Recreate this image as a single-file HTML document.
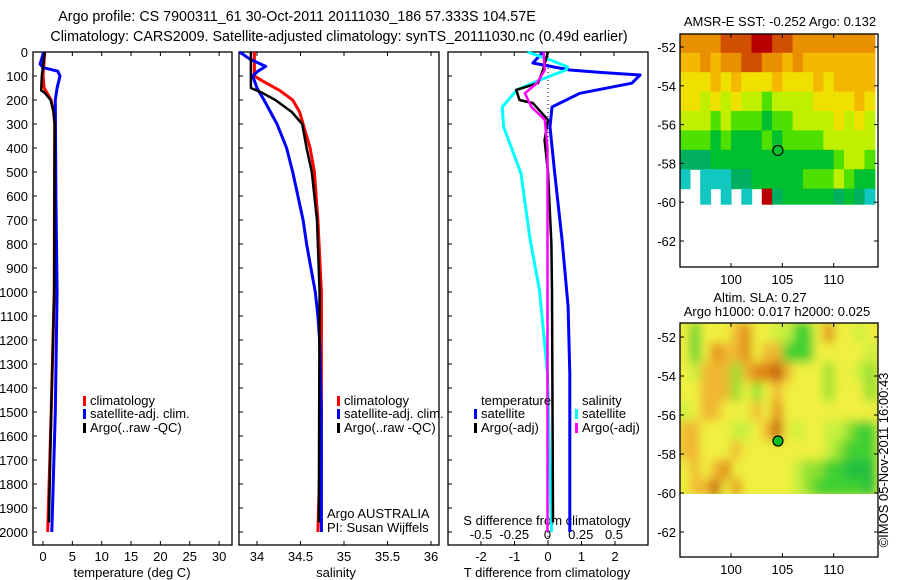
<!DOCTYPE html>
<html><head><meta charset="utf-8"><style>
html,body{margin:0;padding:0;background:#fff;}
svg{display:block;font-family:"Liberation Sans",sans-serif;}
text{fill:#000;}
</style></head><body>
<svg id="chart" width="900" height="580" viewBox="0 0 900 580" xmlns="http://www.w3.org/2000/svg">
<defs>
<filter id="blur" x="-10%" y="-10%" width="120%" height="120%"><feGaussianBlur stdDeviation="5"/></filter>
<clipPath id="clipAlt"><rect x="680" y="323" width="198" height="171"/></clipPath>
</defs>
<text x="297" y="21" font-size="14.3" text-anchor="middle">Argo profile: CS 7900311_61 30-Oct-2011 20111030_186 57.333S 104.57E</text>
<text x="339" y="41" font-size="14.3" text-anchor="middle">Climatology: CARS2009. Satellite-adjusted climatology: synTS_20111030.nc (0.49d earlier)</text>
<g id="layer"></g>
</svg>
<script>
// ---- data ----
const depthTicks=[0,100,200,300,400,500,600,700,800,900,1000,1100,1200,1300,1400,1500,1600,1700,1800,1900,2000];
const tempTicks=[0,5,10,15,20,25,30];
const salTicks=[34,34.5,35,35.5,36];
const dTTicks=[-2,-1,0,1,2];
const dSTicks=[-0.5,-0.25,0,0.25,0.5];
const dSTickLabels=["-0.5","-0.25","0","0.25","0.5"];
const lonTicks=[100,105,110];
const latTicks=[-52,-54,-56,-58,-60,-62];

const tempClimDepth=[0,100,150,200,250,300,1000,1500,2000];
const tempClim=[0.3,0,0.2,1.4,1.8,2.0,1.9,1.4,0.8];
const tempSatDepth=[0,50,65,80,100,150,200,600,1000,1500,2000];
const tempSat=[0.1,-0.5,0,2.5,2.9,2.4,2.1,2.2,2.4,2.1,1.5];
const tempArgoDepth=[0,100,160,170,200,250,300,1000,1500,1960];
const tempArgo=[0.3,-0.2,-0.3,0.3,1.3,1.8,2.0,1.9,1.4,1.0];

const salClimDepth=[0,100,120,160,200,250,300,400,500,700,1000,1500,2000];
const salClim=[33.97,33.97,34.06,34.26,34.41,34.49,34.53,34.61,34.66,34.70,34.74,34.74,34.70];
const salSatDepth=[0,30,60,80,100,150,200,300,400,500,600,700,800,900,1000,1100,1200,1500,2000];
const salSat=[33.80,33.92,34.10,34.01,33.95,34.00,34.08,34.23,34.34,34.41,34.47,34.53,34.57,34.62,34.67,34.70,34.72,34.74,34.74];
const salArgoDepth=[0,150,170,200,250,300,400,500,700,1000,1960];
const salArgo=[33.93,33.93,34.06,34.21,34.40,34.52,34.57,34.63,34.69,34.72,34.71];

const dTSatDepth=[0,46,75,85,96,130,172,229,312,505,784,1060,1340,2000];
const dTSat=[-0.15,-0.45,0.65,1.55,2.75,2.5,0.95,0.12,0.06,0.2,0.42,0.6,0.65,0.65];
const dSSatDepth=[0,33,62,75,117,158,229,312,505,784,992,1340,2000];
const dSSat=[-0.15,0.02,0.15,0.14,-0.06,-0.23,-0.34,-0.33,-0.2,-0.13,-0.06,0.0,0.03];
const dTArgoDepth=[0,75,130,158,200,213,283,367,500,800,1000,1960];
const dTArgo=[0.0,-0.15,-0.3,-0.95,-0.85,-0.45,0.0,-0.1,0.0,0.1,0.12,0.15];
const dSArgoDepth=[0,75,130,172,229,283,400,1000,2000];
const dSArgo=[-0.03,-0.02,-0.08,-0.17,-0.12,-0.02,0.0,0.0,0.0];

const mapLon0=95;
const mapLatTop=-51.3;
const sstRows=[
"7777888998877777777",
"6676778877676666666",
"5556565556555656666",
"5545454434444555565",
"4443433323344445454",
"3332322232333344444",
"1112222222222223443",
"0.00011222223334322",
"..0.0.0.91222221210"];
const altRows=[
"5255567554422575545",
"5257667566222555554",
"5466636778655535543",
"5566635356555535553",
"4566555657555555555",
"6655544568545544322",
"6655565555555543222",
"5656755555543322111",
"5668575555543222221"];
const sstColors={"9":"#b80000","8":"#d05000","7":"#e89000","6":"#f5b800","5":"#f0e000","4":"#c0f000","3":"#50e000","2":"#00c030","1":"#00b060","0":"#10c8c0"};
const altColors={"8":"#c05800","7":"#e08818","6":"#f0b830","5":"#f0f040","4":"#c8f040","3":"#90e030","2":"#40d030","1":"#20c040"};
const argoLon=104.57, argoLat=-57.333;

// ---- axis functions ----
const yD=d=>52+0.24*d;
const xT=t=>43+5.87*t;
const xS=s=>257+87*(s-34);
const xdT=v=>548+33.5*v;
const xdS=v=>547.5+133*v;
const mx=l=>731+10.27*(l-100);
const my1=l=>47+19.4*(-52-l);
const my2=l=>337+19.5*(-52-l);

const NS="http://www.w3.org/2000/svg";
const layer=document.getElementById('layer');
function mk(tag,attrs,parent){const e=document.createElementNS(NS,tag);for(const k in attrs)e.setAttribute(k,attrs[k]);(parent||layer).appendChild(e);return e;}
function txt(x,y,s,size,anchor){const t=mk('text',{x:x,y:y,'font-size':size||13,'text-anchor':anchor||'middle'});t.textContent=s;return t;}

const panels=[[33,232],[239,439],[448,648]];
panels.forEach((p,i)=>{
  const r=mk('rect',{x:p[0],y:52,width:p[1]-p[0],height:493,fill:'none',stroke:'#000','stroke-width':1.3});
  
  
});
depthTicks.forEach(d=>{
  const t=txt(28,yD(d)+5,String(d),13,'end');
  
  
  panels.forEach(p=>{mk('line',{x1:p[0],x2:p[0]+4,y1:yD(d),y2:yD(d),stroke:'#000'});});
});
tempTicks.forEach(v=>{
  const t=txt(xT(v),561,String(v));
  
  
  mk('line',{x1:xT(v),x2:xT(v),y1:52,y2:56,stroke:'#000'});
  mk('line',{x1:xT(v),x2:xT(v),y1:545,y2:541,stroke:'#000'});
});
salTicks.forEach(v=>{
  const t=txt(xS(v),561,String(v));
  
  
  mk('line',{x1:xS(v),x2:xS(v),y1:52,y2:56,stroke:'#000'});
  mk('line',{x1:xS(v),x2:xS(v),y1:545,y2:541,stroke:'#000'});
});
dTTicks.forEach(v=>{
  const t=txt(xdT(v),561,String(v));
  
  
  mk('line',{x1:xdT(v),x2:xdT(v),y1:545,y2:541,stroke:'#000'});
});
dSTicks.forEach((v,i)=>{
  const t=txt(xdS(v),539,dSTickLabels[i]);
  
  
  mk('line',{x1:xdS(v),x2:xdS(v),y1:52,y2:56,stroke:'#000'});
});
let a;
a=txt(132,577,'temperature (deg C)');
a=txt(336,577,'salinity');
a=txt(547,577,'T difference from climatology');
a=txt(547,525,'S difference from climatology');

const zl=mk('line',{x1:xdT(0),x2:xdT(0),y1:52,y2:545,stroke:'#000','stroke-dasharray':'1,3'});



function series(depths,vals,fx,color,w,name){
  const pts=depths.map((d,i)=>fx(vals[i]).toFixed(1)+','+yD(d).toFixed(1)).join(' ');
  const pl=mk('polyline',{points:pts,fill:'none',stroke:color,'stroke-width':w,'stroke-linejoin':'round'});
  
  
}
series(tempClimDepth,tempClim,xT,'#ff0000',3,'temp-climatology-line');
series(tempSatDepth,tempSat,xT,'#0000ff',3,'temp-satellite-line');
series(tempArgoDepth,tempArgo,xT,'#000',2.5,'temp-argo-line');
series(salClimDepth,salClim,xS,'#ff0000',3,'sal-climatology-line');
series(salSatDepth,salSat,xS,'#0000ff',3,'sal-satellite-line');
series(salArgoDepth,salArgo,xS,'#000',2.5,'sal-argo-line');
series(dTSatDepth,dTSat,xdT,'#0000ff',3,'t-diff-satellite-line');
series(dSSatDepth,dSSat,xdS,'#00ffff',3,'s-diff-satellite-line');
series(dTArgoDepth,dTArgo,xdT,'#000',2.5,'t-diff-argo-line');
series(dSArgoDepth,dSArgo,xdS,'#ff00ff',2.5,'s-diff-argo-line');

function legItem(x,y,color,label,name){
  const g=mk('g',{});
  
  
  mk('rect',{x:x,y:y-9,width:3,height:10,fill:color},g);
  const t=mk('text',{x:x+7,y:y,'font-size':13},g);t.textContent=label;
}
legItem(83,405,'#ff0000','climatology','legend-climatology');
legItem(83,418,'#0000ff','satellite-adj. clim.','legend-satellite');
legItem(83,432,'#000','Argo(..raw -QC)','legend-argo');
legItem(337,405,'#ff0000','climatology','legend-climatology-sal');
legItem(337,418,'#0000ff','satellite-adj. clim.','legend-satellite-sal');
legItem(337,432,'#000','Argo(..raw -QC)','legend-argo-sal');
a=txt(481,405,'temperature',13,'start');
legItem(474,418,'#0000ff','satellite','legend-t-satellite');
legItem(474,432,'#000','Argo(-adj)','legend-t-argo');
a=txt(582,405,'salinity',13,'start');
legItem(575,418,'#00ffff','satellite','legend-s-satellite');
legItem(575,432,'#ff00ff','Argo(-adj)','legend-s-argo');
a=txt(327,518,'Argo AUSTRALIA',13,'start');
a=txt(327,532,'PI: Susan Wijffels',13,'start');

function drawMap(rows,colors,my,parent,name){
  const g=mk('g',{},parent);
  
  
  rows.forEach((row,j)=>{
    const la0=mapLatTop-j, la1=Math.max(mapLatTop-j-1,-60.1);
    for(let i=0;i<row.length;i++){
      const c=colors[row[i]]; if(!c) continue;
      const lo=mapLon0+i;
      mk('rect',{x:mx(lo).toFixed(1),y:my(la0).toFixed(1),width:(mx(lo+1)-mx(lo)+0.6).toFixed(1),height:(my(la1)-my(la0)+0.6).toFixed(1),fill:c},g);
    }
  });
  return g;
}
drawMap(sstRows,sstColors,my1,layer,'sst-heatmap');
const ag=mk('g',{'clip-path':'url(#clipAlt)'});
mk('rect',{x:680,y:323,width:198,height:171,fill:'#e8e840'},ag);
const am=drawMap(altRows,altColors,my2,ag,'sla-heatmap');
am.setAttribute('filter','url(#blur)');

function mapAxes(top,bot,my,name){
  const r=mk('rect',{x:680,y:top,width:198,height:bot-top,fill:'none',stroke:'#000','stroke-width':1.3});
  
  
  latTicks.forEach(l=>{
    const t=txt(676,my(l)+5,String(l),13,'end');
    
    
    mk('line',{x1:680,x2:684,y1:my(l),y2:my(l),stroke:'#000'});
    mk('line',{x1:878,x2:874,y1:my(l),y2:my(l),stroke:'#000'});
  });
  lonTicks.forEach(l=>{
    const t=txt(mx(l),bot+17,String(l));
    
    
    mk('line',{x1:mx(l),x2:mx(l),y1:bot,y2:bot-4,stroke:'#000'});
    mk('line',{x1:mx(l),x2:mx(l),y1:top,y2:top+4,stroke:'#000'});
  });
}
mapAxes(34,267,my1,'sst-map-frame');
mapAxes(323,557,my2,'sla-map-frame');
a=mk('circle',{cx:mx(argoLon),cy:my1(argoLat),r:5,fill:'none',stroke:'#000','stroke-width':1.2});

a=mk('circle',{cx:mx(argoLon),cy:my2(argoLat),r:5,fill:'#10c020',stroke:'#000','stroke-width':1.2});

a=txt(780,26,'AMSR-E SST: -0.252 Argo: 0.132',13);
a=txt(760,302,'Altim. SLA: 0.27',13);
a=txt(777,316,'Argo h1000: 0.017 h2000: 0.025',13);
a=txt(0,0,'©IMOS 05-Nov-2011 16:00:43',13);
a.setAttribute('transform','translate(888,460) rotate(-90)');

</script>
</body></html>
